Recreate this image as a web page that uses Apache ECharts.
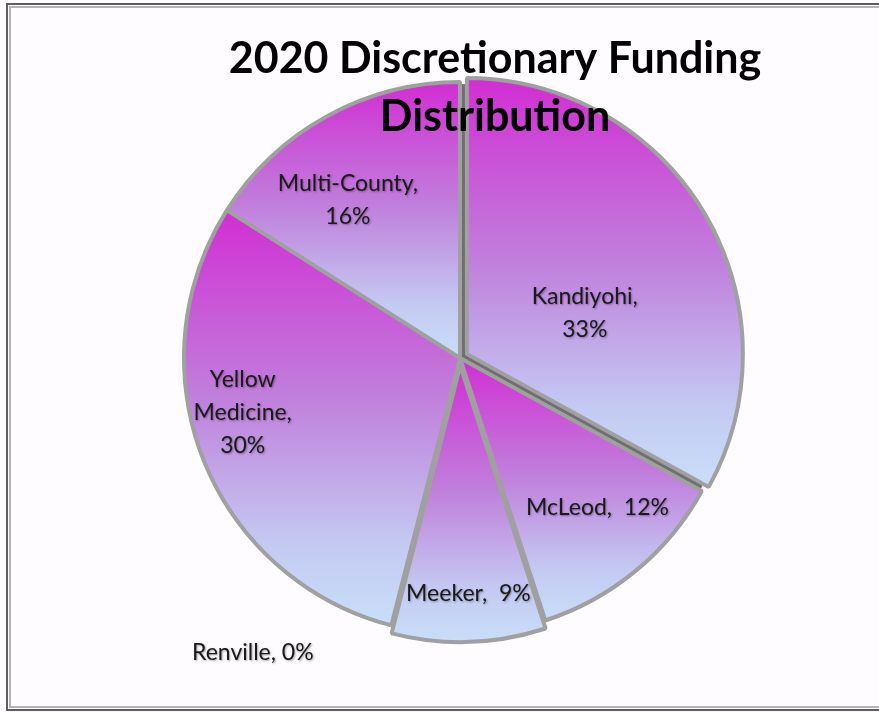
<!DOCTYPE html>
<html>
<head>
<meta charset="utf-8">
<script src="https://cdn.jsdelivr.net/npm/echarts@6/dist/echarts.min.js"></script>
<style>
  html, body { margin: 0; padding: 0; background: #ffffff; }
  #chart { width: 879px; height: 713px; }
</style>
</head>
<body>
<div id="chart"></div>
<script>
// Funding share by county (percent of the 2020 discretionary total)
const counties = ['Kandiyohi', 'McLeod', 'Meeker', 'Renville', 'Yellow Medicine', 'Multi-County'];
const shares = [33, 12, 9, 0, 30, 16];
// Label text templates ({v} is replaced by the percentage)
const labelTemplates = ['Kandiyohi,\n{v}', 'McLeod,  {v}', 'Meeker,  {v}', 'Renville, {v}', 'Yellow\nMedicine,\n{v}', 'Multi-County,\n{v}'];
// Slices pulled out from the centre
const exploded = ['Kandiyohi', 'Meeker'];

// Geometry of the pie and label placement (radius fraction, extra shift in px)
const CX = 460, CY = 358, R = 276;
const labelRadius = [0.50, 0.77, 0.86, 1.11, 0.80, 0.70];
const labelShift = [[6, 25], [2, -14], [1, -2], [-131, -2], [-12, -27], [-19, 11]];

const chart = echarts.init(document.getElementById('chart'), null, { renderer: 'canvas' });

function sliceGradient() {
  return new echarts.graphic.LinearGradient(0, 0, 0, 1, [
    { offset: 0, color: '#d22dd3' },
    { offset: 0.45, color: '#c07fdc' },
    { offset: 0.8, color: '#c4c9f2' },
    { offset: 1, color: '#c9dff8' }
  ]);
}

// mid-angle (radians, clockwise from 12 o'clock) of each slice
const total = shares.reduce((a, b) => a + b, 0);
const midAngles = [];
let acc = 0;
shares.forEach(v => { midAngles.push((acc + v / 2) / total * Math.PI * 2); acc += v; });

const sliceStyle = {
  color: sliceGradient(),
  borderColor: '#a0a0a0',
  borderWidth: 4,
  borderJoin: 'bevel'
};

const option = {
  backgroundColor: '#ffffff',
  animation: false,
  title: {
    text: '2020 Discretionary Funding\nDistribution',
    left: 490,
    textAlign: 'center',
    top: 25,
    textStyle: {
      fontFamily: 'Lato',
      fontWeight: 'bold',
      fontSize: 43,
      lineHeight: 58,
      color: '#000000'
    },
    z: 10
  },
  graphic: [
    { type: 'rect', shape: { x: 0, y: 0, width: 879, height: 713 }, style: { fill: '#fefcfe' }, z: -10, silent: true },
    { type: 'rect', shape: { x: 7, y: 4, width: 900, height: 706 }, style: { fill: 'none', stroke: '#5e5e5e', lineWidth: 2 }, z: -9, silent: true },
    { type: 'rect', shape: { x: 10, y: 7, width: 900, height: 700 }, style: { fill: 'none', stroke: '#b4b4b4', lineWidth: 2 }, z: -9, silent: true }
  ],
  series: [
    {
      // grey body showing through the gaps between slices
      type: 'pie',
      center: [CX, CY],
      radius: [0, R - 2],
      startAngle: 90,
      silent: true,
      label: { show: false },
      labelLine: { show: false },
      itemStyle: { color: '#6f6f6f' },
      data: [{ value: 1, name: '' }],
      z: 1
    },
    {
      // coloured slices
      type: 'pie',
      center: [CX, CY],
      radius: [0, R],
      startAngle: 90,
      clockwise: true,
      sort: false,
      selectedMode: 'multiple',
      selectedOffset: 8,
      itemStyle: sliceStyle,
      select: { itemStyle: sliceStyle },
      emphasis: { disabled: true },
      label: { show: false },
      labelLine: { show: false },
      data: counties.map((name, i) => ({
        name: name,
        value: shares[i],
        selected: exploded.indexOf(name) >= 0
      })),
      z: 2
    },
    {
      // category labels
      type: 'pie',
      center: [CX, CY],
      radius: [0, R],
      startAngle: 90,
      clockwise: true,
      sort: false,
      silent: true,
      avoidLabelOverlap: false,
      itemStyle: { color: 'rgba(0,0,0,0)', borderWidth: 0 },
      emphasis: { disabled: true },
      label: {
        show: true,
        position: 'inside',
        fontFamily: 'Lato',
        fontSize: 23,
        lineHeight: 33,
        color: '#1a1a1a',
        textShadowColor: 'rgba(0,0,0,0.35)',
        textShadowBlur: 2,
        textShadowOffsetX: 1,
        textShadowOffsetY: 1,
        formatter: p => labelTemplates[p.dataIndex].replace('{v}', Math.round(p.percent) + '%')
      },
      labelLine: { show: false },
      labelLayout: p => {
        const i = p.dataIndex;
        const a = midAngles[i];
        const d = labelRadius[i] * R;
        return {
          x: CX + Math.sin(a) * d + labelShift[i][0],
          y: CY - Math.cos(a) * d + labelShift[i][1],
          align: 'center',
          verticalAlign: 'middle'
        };
      },
      data: counties.map((name, i) => ({ name: name, value: shares[i] })),
      z: 3
    }
  ]
};

chart.setOption(option);
</script>
</body>
</html>
